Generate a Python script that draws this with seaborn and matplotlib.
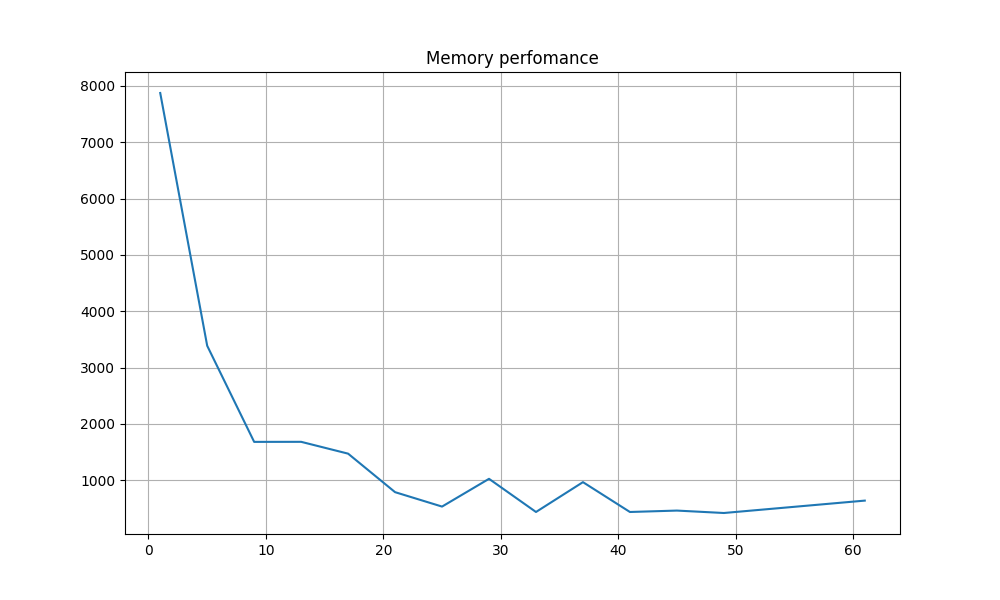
import pandas as pd
import seaborn as sns
import matplotlib.pyplot as plt

# memory test results
sizes = [1, 5, 9, 13, 17, 21, 25, 29, 33, 37, 41, 45, 49, 61]
times = [7875, 3386, 1679, 1680, 1470, 786, 530, 1023, 434, 964, 434, 459, 416, 636]

df = pd.DataFrame({'size': sizes, 'time': times})

fig, ax = plt.subplots(figsize=(10, 6), dpi=100)
sns.lineplot(data=df, x='size', y='time', ax=ax)
ax.set_xlabel('')
ax.set_ylabel('')
ax.set_title('Memory perfomance')
ax.grid(True)
plt.savefig('out.png')
plt.close('all')
